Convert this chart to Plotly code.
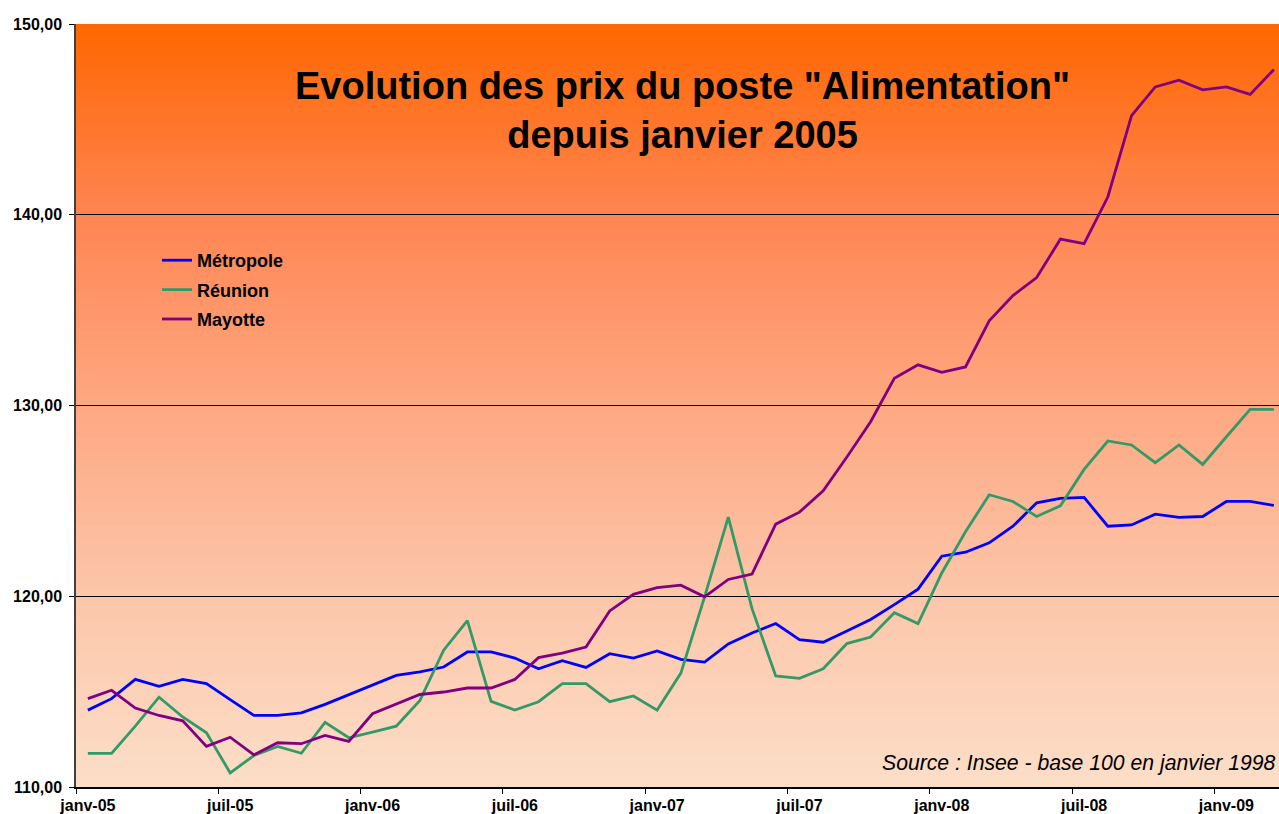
import plotly.graph_objects as go

# ---------------- data ----------------
months = []
_mnames = ["janv", "févr", "mars", "avr", "mai", "juin",
           "juil", "août", "sept", "oct", "nov", "déc"]
for yr in range(5, 10):
    for m in _mnames:
        months.append(f"{m}-{yr:02d}")
months = months[:51]  # janv-05 .. mars-09

metropole = [114.03, 114.63, 115.64, 115.28, 115.64, 115.42, 114.58, 113.75, 113.75, 113.89,
             114.33, 114.85, 115.33, 115.85, 116.03, 116.29, 117.08, 117.08, 116.76, 116.20,
             116.62, 116.27, 116.99, 116.76, 117.13, 116.69, 116.55, 117.50, 118.07, 118.57,
             117.73, 117.59, 118.18, 118.78, 119.56, 120.37, 122.10, 122.31, 122.80, 123.67,
             124.90, 125.13, 125.18, 123.67, 123.74, 124.30, 124.13, 124.18, 124.97, 124.97,
             124.76]

reunion = [111.76, 111.76, 113.19, 114.71, 113.67, 112.84, 110.74, 111.65, 112.13, 111.77,
           113.39, 112.58, 112.88, 113.19, 114.54, 117.17, 118.72, 114.49, 114.03, 114.47,
           115.42, 115.42, 114.47, 114.77, 114.03, 115.97, 119.97, 124.15, 119.35, 115.82,
           115.70, 116.20, 117.52, 117.86, 119.14, 118.57, 121.22, 123.38, 125.32, 124.97,
           124.18, 124.74, 126.65, 128.14, 127.93, 127.00, 127.93, 126.91, 128.36, 129.80,
           129.80]

mayotte = [114.63, 115.07, 114.14, 113.75, 113.47, 112.13, 112.61, 111.69, 112.32, 112.27,
           112.70, 112.39, 113.84, 114.33, 114.85, 114.98, 115.19, 115.19, 115.64, 116.78,
           117.02, 117.34, 119.23, 120.10, 120.45, 120.58, 119.97, 120.88, 121.16, 123.78,
           124.41, 125.53, 127.30, 129.15, 131.43, 132.13, 131.74, 132.02, 134.44, 135.76,
           136.71, 138.72, 138.48, 140.93, 145.20, 146.70, 147.05, 146.55, 146.70, 146.31,
           147.61]

series_names = ["Métropole", "Réunion", "Mayotte"]
series_colors = ["#0000FF", "#339966", "#800080"]
y_ticks = [110, 120, 130, 140, 150]

title_text = 'Evolution des prix du poste "Alimentation"<br>depuis janvier 2005'
source_text = "Source : Insee - base 100 en janvier 1998"

FONT = "Liberation Sans, Arial, sans-serif"

# ---------------- figure ----------------
x_idx = list(range(len(months)))
fig = go.Figure()
for name, vals, col in zip(series_names, [metropole, reunion, mayotte], series_colors):
    fig.add_trace(go.Scatter(
        x=x_idx, y=vals, name=name, mode="lines",
        line=dict(color=col, width=2.8),
        legendgroup=name,
    ))

# vertical gradient background (orange -> light peach)
stops = [(0.0, (255, 102, 0)), (0.25, (255, 133, 82)), (0.5, (254, 168, 130)),
         (0.75, (252, 198, 170)), (1.0, (252, 222, 199))]

def grad(t):
    for (t0, c0), (t1, c1) in zip(stops[:-1], stops[1:]):
        if t0 <= t <= t1:
            f = (t - t0) / (t1 - t0)
            return "rgb(%d,%d,%d)" % tuple(round(a + (b - a) * f) for a, b in zip(c0, c1))
    return "rgb(%d,%d,%d)" % stops[-1][1]

shapes = []
N = 120
for k in range(N):
    t = (k + 0.5) / N
    shapes.append(dict(type="rect", xref="paper", yref="paper",
                       x0=0, x1=1, y0=1 - (k + 1) / N - 0.001, y1=1 - k / N,
                       fillcolor=grad(t), line=dict(width=0), layer="below"))

W, H = 1279, 814
ml, mr, mt, mb = 76, 0, 24, 27
pw = W - ml - mr
ph = H - mt - mb
px_per_cat = 23.72
x_end = -0.5 + pw / px_per_cat

fig.update_layout(
    width=W, height=H,
    margin=dict(l=ml, r=mr, t=mt, b=mb, pad=0),
    paper_bgcolor="white",
    plot_bgcolor="rgba(0,0,0,0)",
    separators=", ",
    font=dict(family=FONT, color="black"),
    shapes=shapes,
    showlegend=True,
    legend=dict(
        x=(157 - ml) / pw, y=(H - mb - 242) / ph, xanchor="left", yanchor="top",
        bgcolor="rgba(0,0,0,0)", borderwidth=0,
        font=dict(size=18, family=FONT, weight="bold"),
        tracegroupgap=3, itemwidth=30,
    ),
    xaxis=dict(
        range=[-0.5, x_end],
        tickmode="array", tickvals=x_idx[::6], ticktext=months[::6],
        ticks="", showgrid=False, zeroline=False,
        showline=True, linecolor="black", linewidth=1.5,
        tickfont=dict(size=16, weight="bold"),
        ticklabelstandoff=3,
        minor=dict(tickmode="linear", tick0=-0.5, dtick=6, ticks="outside",
                   ticklen=5, tickcolor="black", tickwidth=1, showgrid=False),
    ),
    yaxis=dict(
        range=[110, 150], tickmode="array", tickvals=y_ticks, tickformat=".2f",
        ticks="outside", ticklen=5, tickcolor="black",
        showgrid=True, gridcolor="black", gridwidth=1, zeroline=False,
        showline=True, linecolor="#404040", linewidth=1.5,
        tickfont=dict(size=16, weight="bold"),
        ticklabelstandoff=4,
    ),
    annotations=[
        dict(text=title_text, xref="paper", yref="paper",
             x=(682 - ml) / pw, y=(H - mb - 111) / ph,
             xanchor="center", yanchor="middle", showarrow=False,
             font=dict(size=38, weight="bold", family=FONT)),
        dict(text=source_text, xref="paper", yref="paper",
             x=(1278 - ml) / pw, y=(H - mb - 763) / ph,
             xanchor="right", yanchor="middle", showarrow=False,
             font=dict(size=21.2, style="italic", family=FONT)),
    ],
)

fig.write_html("out.html",
               config={"displayModeBar": False},
               post_script="document.body.style.margin='0';document.body.style.overflow='hidden';")
